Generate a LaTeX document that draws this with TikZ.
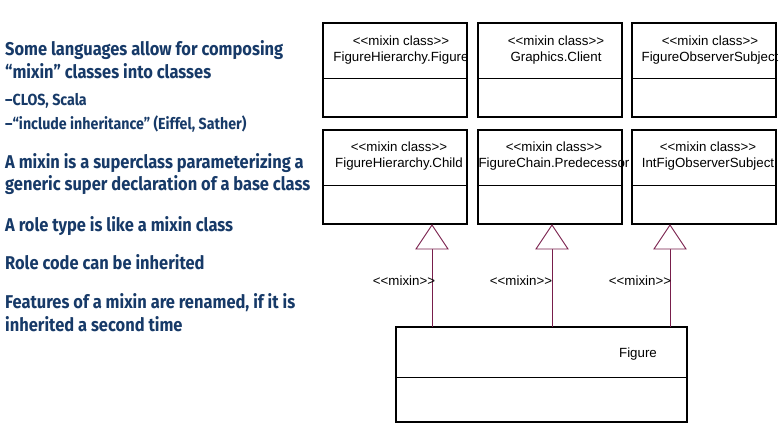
\documentclass[tikz,border=0pt]{standalone}
\usepackage{fontspec}
\newfontfamily\diafont{Liberation Sans}
\newfontfamily\leftfont[FakeStretch=0.89]{Fira Sans}
\definecolor{navy}{RGB}{23,58,104}
\definecolor{maroon}{RGB}{120,30,75}
\begin{document}
\begin{tikzpicture}[x=1pt,y=-1pt,
  box/.style={draw=black,line width=1.2pt},
  sep/.style={draw=black,line width=1pt},
  ctext/.style={font=\diafont\fontsize{13.3}{15}\selectfont,inner sep=0pt},
  lt/.style={anchor=base west,inner sep=0pt,text=navy,font=\leftfont\bfseries\fontsize{18.5}{21}\selectfont},
  ls/.style={anchor=base west,inner sep=0pt,text=navy,font=\leftfont\bfseries\fontsize{16}{18}\selectfont},
  gen/.style={draw=maroon,line width=0.9pt},
  tri/.style={draw=maroon,line width=0.9pt,fill=white},
  mlab/.style={font=\diafont\fontsize{13.3}{15}\selectfont,inner sep=0pt}]
\useasboundingbox (0,0) rectangle (783,438);
% left text
\node[lt] (t1) at (5,56) {Some languages allow for composing};
\node[lt] (t2) at (5,79) {“mixin” classes into classes};
\node[ls] (t3) at (5,106) {–CLOS, Scala};
\node[ls] (t4) at (5,130) {–“include inheritance” (Eiffel, Sather)};
\node[lt] (t5) at (5,169) {A mixin is a superclass parameterizing a};
\node[lt] (t6) at (5,191) {generic super declaration of a base class};
\node[lt] (t7) at (5,231) {A role type is like a mixin class};
\node[lt] (t8) at (5,269) {Role code can be inherited};
\node[lt] (t9) at (5,308) {Features of a mixin are renamed, if it is};
\node[lt] (t10) at (5,331) {inherited a second time};
% top row boxes
\foreach \n/\xa/\xb/\nm in {a/323/467/FigureHierarchy.Figure,b/478/622/Graphics.Client,c/632/776/FigureObserverSubject}{
  \draw[box] (\xa,23) rectangle (\xb,117);
  \draw[sep] (\xa,79) -- (\xb,79);
  \node[ctext] (\n s) at ({(\xa+\xb)/2+6},41) {<<mixin class>>};
  \node[ctext] (\n n) at ({(\xa+\xb)/2+6},58) {\nm};
}
% second row boxes
\foreach \n/\xa/\xb/\nm in {d/323/467/FigureHierarchy.Child,e/478/622/FigureChain.Predecessor,f/632/776/IntFigObserverSubject}{
  \draw[box] (\xa,130) rectangle (\xb,224);
  \draw[sep] (\xa,186) -- (\xb,186);
  \node[ctext] (\n s) at ({(\xa+\xb)/2+4},147) {<<mixin class>>};
  \node[ctext] (\n n) at ({(\xa+\xb)/2+4},164) {\nm};
}
% Figure box
\draw[box] (396,327) rectangle (687,422);
\draw[sep] (396,377) -- (687,377);
\node[ctext] (fig) at (638,354) {Figure};
% generalizations
\foreach \n/\x/\lx in {d/432/404,e/552/521,f/670/640}{
  \coordinate (top\n) at (\x,225);
  \coordinate (bot\n) at (\x,327);
  \draw[gen] (\x,249) -- (bot\n);
  \draw[tri] (top\n) -- (\x-16,249) -- (\x+16,249) -- cycle;
  \node[mlab] (m\n) at (\lx,281) {<<mixin>>};
}
\end{tikzpicture}
\end{document}
